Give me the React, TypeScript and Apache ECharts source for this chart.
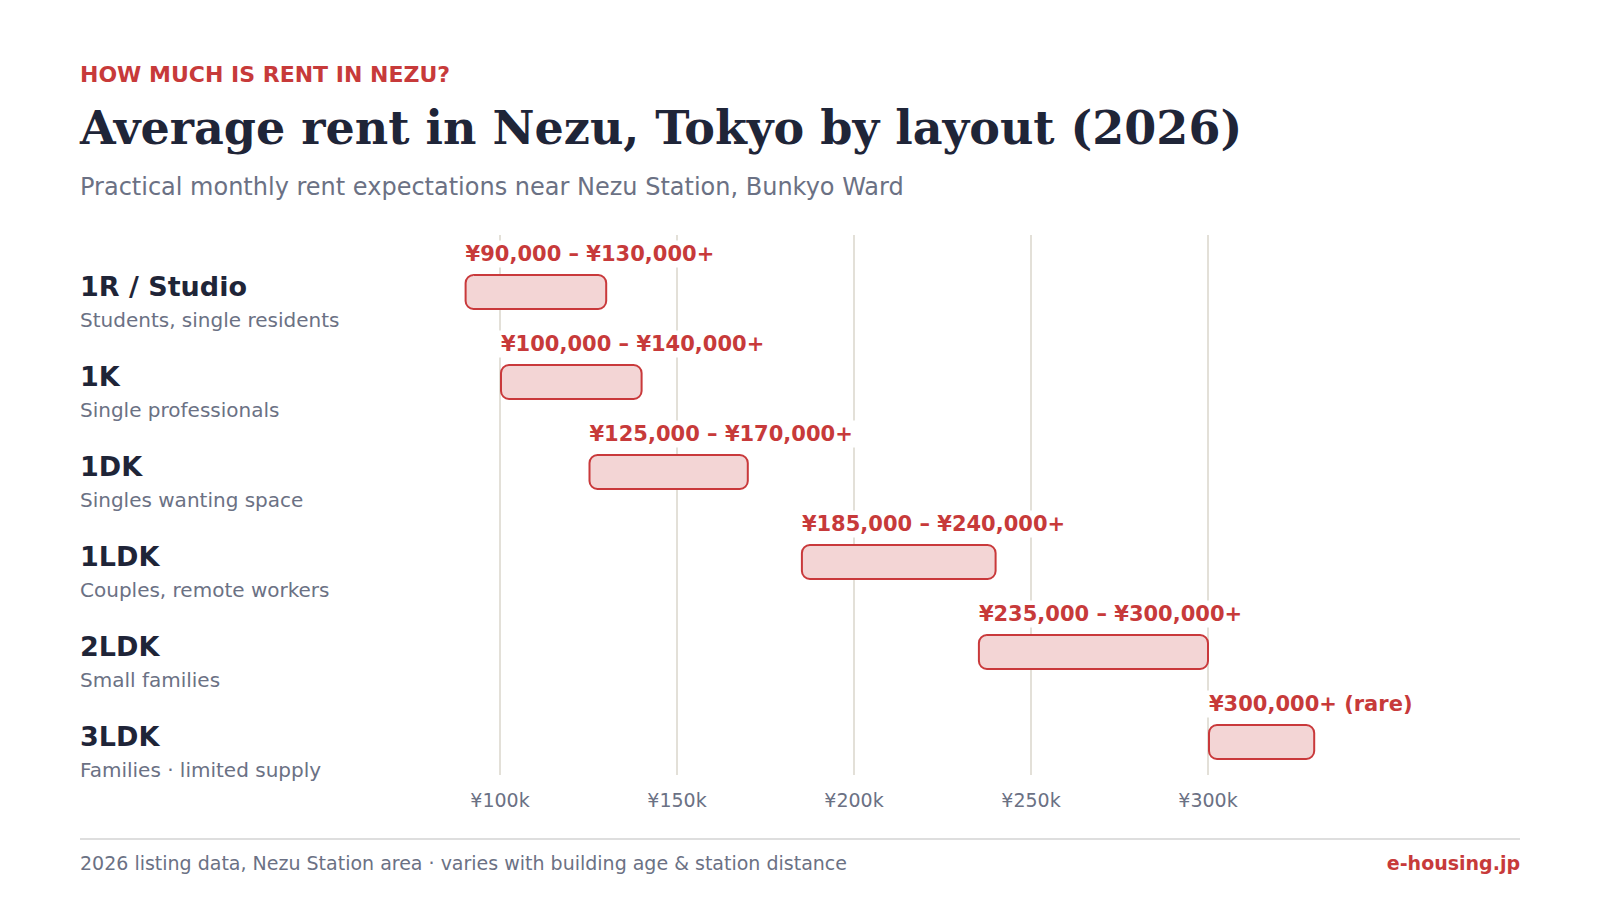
import React, { useEffect, useRef } from "react";
import * as echarts from "echarts";

// Layout types, from smallest to largest
const layouts = ["1R / Studio", "1K", "1DK", "1LDK", "2LDK", "3LDK"];
const audiences = [
  "Students, single residents",
  "Single professionals",
  "Singles wanting space",
  "Couples, remote workers",
  "Small families",
  "Families · limited supply",
];
// Monthly rent range in yen
const rentLow = [90000, 100000, 125000, 185000, 235000, 300000];
const rentHigh = [130000, 140000, 170000, 240000, 300000, 330000];
// Ranges whose upper bound is open-ended and scarce
const rareSupply = [false, false, false, false, false, true];
const axisTicks = [100000, 150000, 200000, 250000, 300000];

const RED = "#c73a3a";
const NAVY = "#1f2538";
const GRAY = "#6b7184";
const SANS = "DejaVu Sans";

const yen = (v: number) => "¥" + v.toLocaleString("en-US");
const rangeLabel = (i: number) =>
  rareSupply[i] ? `${yen(rentLow[i])}+ (rare)` : `${yen(rentLow[i])} – ${yen(rentHigh[i])}+`;

export default function App() {
  const ref = useRef<HTMLDivElement>(null);

  useEffect(() => {
    if (!ref.current) return;
    const chart = echarts.init(ref.current, undefined, { renderer: "svg" });

    const BAR_H = 34;
    const BAR_SHIFT = 12;

    chart.setOption({
      animation: false,
      backgroundColor: "#ffffff",
      textStyle: { fontFamily: SANS },
      grid: { left: 323, top: 235, width: 1062, height: 540, containLabel: false },
      xAxis: {
        type: "value",
        min: 50000,
        max: 350000,
        interval: 50000,
        axisLine: { show: false },
        axisTick: { show: false },
        splitLine: {
          show: true,
          showMinLine: false,
          showMaxLine: false,
          lineStyle: { color: "#e3e0d8", width: 2 },
        },
        axisLabel: {
          showMinLabel: false,
          showMaxLabel: false,
          margin: 15,
          color: GRAY,
          fontFamily: SANS,
          fontSize: 19,
          formatter: (v: number) => (axisTicks.includes(v) ? `¥${v / 1000}k` : ""),
        },
      },
      yAxis: {
        type: "category",
        data: layouts,
        inverse: true,
        axisLine: { show: false },
        axisTick: { show: false },
        splitLine: { show: false },
        axisLabel: {
          align: "left",
          margin: 243,
          padding: [46, 0, 0, 0],
          formatter: (v: string, i: number) => `{t|${v}}\n{s|${audiences[i]}}`,
          rich: {
            t: { fontFamily: SANS, fontWeight: "bold", fontSize: 27, color: NAVY, lineHeight: 33 },
            s: { fontFamily: SANS, fontSize: 20, color: GRAY, lineHeight: 33 },
          },
        },
      },
      series: [
        {
          type: "custom",
          clip: false,
          encode: { x: [0, 1], y: 2 },
          data: layouts.map((_, i) => [rentLow[i], rentHigh[i], i]),
          renderItem: (params: any, api: any) => {
            const i = api.value(2);
            const start = api.coord([api.value(0), i]);
            const end = api.coord([api.value(1), i]);
            const cy = start[1] + BAR_SHIFT;
            return {
              type: "group",
              children: [
                {
                  type: "rect",
                  shape: { x: start[0] + 1, y: cy - BAR_H / 2, width: end[0] - start[0] - 1, height: BAR_H, r: 8 },
                  style: { fill: "#f3d5d5", stroke: "#c9393b", lineWidth: 2 },
                },
                {
                  type: "text",
                  x: start[0] - 2,
                  y: cy - 38,
                  style: {
                    text: rangeLabel(i),
                    fill: RED,
                    fontFamily: SANS,
                    fontWeight: "bold",
                    fontSize: 21,
                    align: "left",
                    verticalAlign: "middle",
                    backgroundColor: "#ffffff",
                    padding: [3, 3],
                  },
                },
              ],
            };
          },
        },
      ],
      graphic: [
        {
          type: "text",
          left: 80,
          top: 63,
          style: { text: "HOW MUCH IS RENT IN NEZU?", fill: RED, fontFamily: SANS, fontWeight: "bold", fontSize: 22 },
        },
        {
          type: "text",
          left: 80,
          top: 105,
          style: {
            text: "Average rent in Nezu, Tokyo by layout (2026)",
            fill: NAVY,
            fontFamily: "DejaVu Serif",
            fontWeight: "bold",
            fontSize: 46,
          },
        },
        {
          type: "text",
          left: 80,
          top: 175,
          style: {
            text: "Practical monthly rent expectations near Nezu Station, Bunkyo Ward",
            fill: GRAY,
            fontFamily: SANS,
            fontSize: 24,
          },
        },
        {
          type: "line",
          shape: { x1: 80, y1: 839, x2: 1520, y2: 839 },
          style: { stroke: "#dedede", lineWidth: 2 },
        },
        {
          type: "text",
          left: 80,
          top: 853,
          style: {
            text: "2026 listing data, Nezu Station area · varies with building age & station distance",
            fill: GRAY,
            fontFamily: SANS,
            fontSize: 19,
          },
        },
        {
          type: "text",
          right: 80,
          top: 853,
          style: { text: "e-housing.jp", fill: RED, fontFamily: SANS, fontWeight: "bold", fontSize: 19 },
        },
      ],
    });

    return () => chart.dispose();
  }, []);

  return (
    <div
      ref={ref}
      style={{ position: "absolute", left: 0, top: 0, width: 1600, height: 900, background: "#ffffff" }}
    />
  );
}
